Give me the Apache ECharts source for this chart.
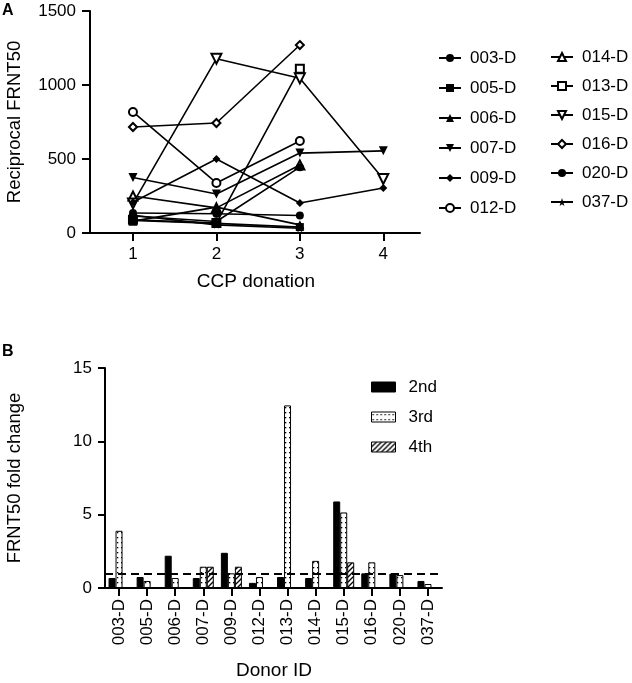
<!DOCTYPE html>
<html><head><meta charset="utf-8">
<script src="https://cdn.jsdelivr.net/npm/echarts@6/dist/echarts.min.js"></script>
<style>html,body{margin:0;padding:0;background:#fff}#c{width:632px;height:683px}</style>
</head><body><div id="c"></div>
<script>
// ---------- Panel A data: reciprocal FRNT50 per CCP donation ----------
const donations = [1, 2, 3, 4];
const d003 = [115, 78, 445, null];
const d005 = [85, 65, 40, null];
const d006 = [80, 175, 55, null];
const d007 = [375, 263, 540, 555];
const d009 = [208, 500, 203, 304];
const d012 = [818, 338, 622, null];
const d014 = [250, 170, 460, null];
const d013 = [90, 67, 1110, null];
const d015 = [200, 1178, 1045, 365];
const d016 = [716, 743, 1270, null];
const d020 = [135, 130, 118, null];
const d037 = [120, 55, 32, null];
const yTicksA = [0, 500, 1000, 1500];

// ---------- Panel B data: FRNT50 fold change ----------
const donorIds = ['003-D','005-D','006-D','007-D','009-D','012-D','013-D','014-D','015-D','016-D','020-D','037-D'];
const fold2nd = [0.68, 0.75, 2.2, 0.68, 2.4, 0.35, 0.75, 0.68, 5.9, 1.0, 0.98, 0.48];
const fold3rd = [3.9, 0.48, 0.68, 1.45, 1.0, 0.75, 12.45, 1.85, 5.15, 1.75, 0.88, 0.27];
const fold4th = [null, null, null, 1.45, 1.45, null, null, null, 1.75, null, null, null];
const foldRef = 1;
const yTicksB = [0, 5, 10, 15];

const FONT = 'Liberation Sans, Arial, Helvetica, sans-serif';
const BLK = '#000';

const starPath = 'path://M50,0 L61,35 L98,35 L68,57 L79,91 L50,70 L21,91 L32,57 L2,35 L39,35 Z';
const lineSeriesDefs = [
  {name:'003-D', data:d003, symbol:'circle', size:8, open:false, rot:0},
  {name:'005-D', data:d005, symbol:'rect', size:8, open:false, rot:0},
  {name:'006-D', data:d006, symbol:'triangle', size:9, open:false, rot:0},
  {name:'007-D', data:d007, symbol:'triangle', size:9, open:false, rot:180},
  {name:'009-D', data:d009, symbol:'diamond', size:8, open:false, rot:0},
  {name:'012-D', data:d012, symbol:'circle', size:8, open:true, rot:0},
  {name:'014-D', data:d014, symbol:'triangle', size:9, open:true, rot:0},
  {name:'013-D', data:d013, symbol:'rect', size:8, open:true, rot:0},
  {name:'015-D', data:d015, symbol:'triangle', size:10, open:true, rot:180},
  {name:'016-D', data:d016, symbol:'diamond', size:8, open:true, rot:0},
  {name:'020-D', data:d020, symbol:'circle', size:8, open:false, rot:0},
  {name:'037-D', data:d037, symbol:starPath, size:8, open:false, rot:0}
];

function dotPattern(){
  const c = document.createElement('canvas'); c.width = 4; c.height = 5;
  const g = c.getContext('2d');
  g.fillStyle = '#fff'; g.fillRect(0,0,4,5);
  g.fillStyle = '#000'; g.fillRect(1,2,1.3,1.3);
  return c;
}
function hatchPattern(){
  const c = document.createElement('canvas'); c.width = 5; c.height = 5;
  const g = c.getContext('2d');
  g.fillStyle = '#fff'; g.fillRect(0,0,5,5);
  g.strokeStyle = '#000'; g.lineWidth = 1.3;
  g.beginPath();
  g.moveTo(0,5); g.lineTo(5,0);
  g.moveTo(-1,1); g.lineTo(1,-1);
  g.moveTo(4,6); g.lineTo(6,4);
  g.stroke();
  return c;
}

const chart = echarts.init(document.getElementById('c'), null, {renderer:'canvas'});

const axisLineStyle = {show:true, lineStyle:{color:BLK, width:2}};
const axisTickStyle = {show:true, length:8, lineStyle:{color:BLK, width:2}};
const labelStyle = {color:BLK, fontFamily:FONT, fontSize:17};
const plainNum = v => String(v);

const series = [];
lineSeriesDefs.forEach(d => {
  const pts = [];
  d.data.forEach((v,i) => { if (v !== null) pts.push([donations[i], v]); });
  series.push({
    type:'line', name:d.name, xAxisIndex:0, yAxisIndex:0,
    data:pts, symbol:d.symbol, symbolSize:d.size, symbolRotate:d.rot,
    showAllSymbol:true, animation:false,
    lineStyle:{color:BLK, width:1.6},
    itemStyle:{color: d.open ? '#fff' : BLK, borderColor:BLK, borderWidth: d.open ? 2 : 0, opacity:1},
    emphasis:{disabled:true}, z: d.open ? 3 : 4
  });
});

const barCommon = {type:'bar', xAxisIndex:1, yAxisIndex:1, barWidth:7, barGap:'0%', animation:false, emphasis:{disabled:true}};
series.push(Object.assign({}, barCommon, {name:'2nd', data:fold2nd,
  itemStyle:{color:BLK, borderColor:BLK, borderWidth:1},
  markLine:{silent:true, symbol:'none', label:{show:false}, animation:false,
    lineStyle:{color:BLK, width:2, type:[8,5]}, data:[{yAxis:foldRef}]}
}));
series.push(Object.assign({}, barCommon, {name:'3rd', data:fold3rd,
  itemStyle:{color:{image:dotPattern(), repeat:'repeat'}, borderColor:BLK, borderWidth:1}}));
series.push(Object.assign({}, barCommon, {name:'4th', data:fold4th,
  itemStyle:{color:{image:hatchPattern(), repeat:'repeat'}, borderColor:BLK, borderWidth:1}}));

const legendText = {color:BLK, fontFamily:FONT, fontSize:17, lineHeight:20, padding:[0,0,0,4]};

const option = {
  backgroundColor:'#fff',
  animation:false,
  grid:[
    {left:90, top:11, width:330, height:222},
    {left:105, top:368, width:337, height:220}
  ],
  xAxis:[
    {type:'value', gridIndex:0, min:0.485, max:4.44,
     axisLine:axisLineStyle, splitLine:{show:false},
     axisTick:Object.assign({customValues:donations}, axisTickStyle),
     axisLabel:Object.assign({customValues:donations, margin:13, formatter:plainNum}, labelStyle)},
    {type:'category', gridIndex:1, data:donorIds,
     axisLine:axisLineStyle, axisTick:Object.assign({alignWithLabel:true}, axisTickStyle),
     axisLabel:Object.assign({rotate:90, margin:11, interval:0}, labelStyle)}
  ],
  yAxis:[
    {type:'value', gridIndex:0, min:0, max:1500, interval:500,
     axisLine:axisLineStyle, axisTick:axisTickStyle, splitLine:{show:false},
     axisLabel:Object.assign({margin:14, formatter:plainNum}, labelStyle)},
    {type:'value', gridIndex:1, min:0, max:15, interval:5,
     axisLine:axisLineStyle, axisTick:Object.assign({}, axisTickStyle, {length:7}), splitLine:{show:false},
     axisLabel:Object.assign({margin:13, formatter:plainNum}, labelStyle)}
  ],
  legend:[
    {data:['003-D','005-D','006-D','007-D','009-D','012-D'], orient:'vertical', left:433, top:43,
     itemWidth:22, itemHeight:10, itemGap:10, textStyle:legendText, selectedMode:false},
    {data:['014-D','013-D','015-D','016-D','020-D','037-D'], orient:'vertical', left:545, top:42,
     itemWidth:22, itemHeight:10, itemGap:9, textStyle:legendText, selectedMode:false},
    {data:['2nd','3rd','4th'], orient:'vertical', left:366, top:372,
     icon:'rect', itemWidth:24, itemHeight:10, itemGap:10,
     itemStyle:{borderColor:BLK, borderWidth:1},
     textStyle:{color:BLK, fontFamily:FONT, fontSize:17, lineHeight:20, padding:[0,0,0,8]}, selectedMode:false}
  ],
  graphic:[
    {type:'text', left:2, top:3, style:{text:'A', font:'bold 16px '+FONT, fill:BLK}},
    {type:'text', left:2, top:344, style:{text:'B', font:'bold 16px '+FONT, fill:BLK}},
    {type:'text', x:15, y:122, rotation:Math.PI/2,
     style:{text:'Reciprocal FRNT50', font:'18.5px '+FONT, fill:BLK, align:'center', verticalAlign:'middle'}},
    {type:'text', x:256, y:282,
     style:{text:'CCP donation', font:'19px '+FONT, fill:BLK, align:'center', verticalAlign:'middle'}},
    {type:'text', x:15, y:478, rotation:Math.PI/2,
     style:{text:'FRNT50 fold change', font:'18.5px '+FONT, fill:BLK, align:'center', verticalAlign:'middle'}},
    {type:'text', x:274, y:671,
     style:{text:'Donor ID', font:'19px '+FONT, fill:BLK, align:'center', verticalAlign:'middle'}}
  ],
  series:series
};
chart.setOption(option);
</script>
</body></html>
